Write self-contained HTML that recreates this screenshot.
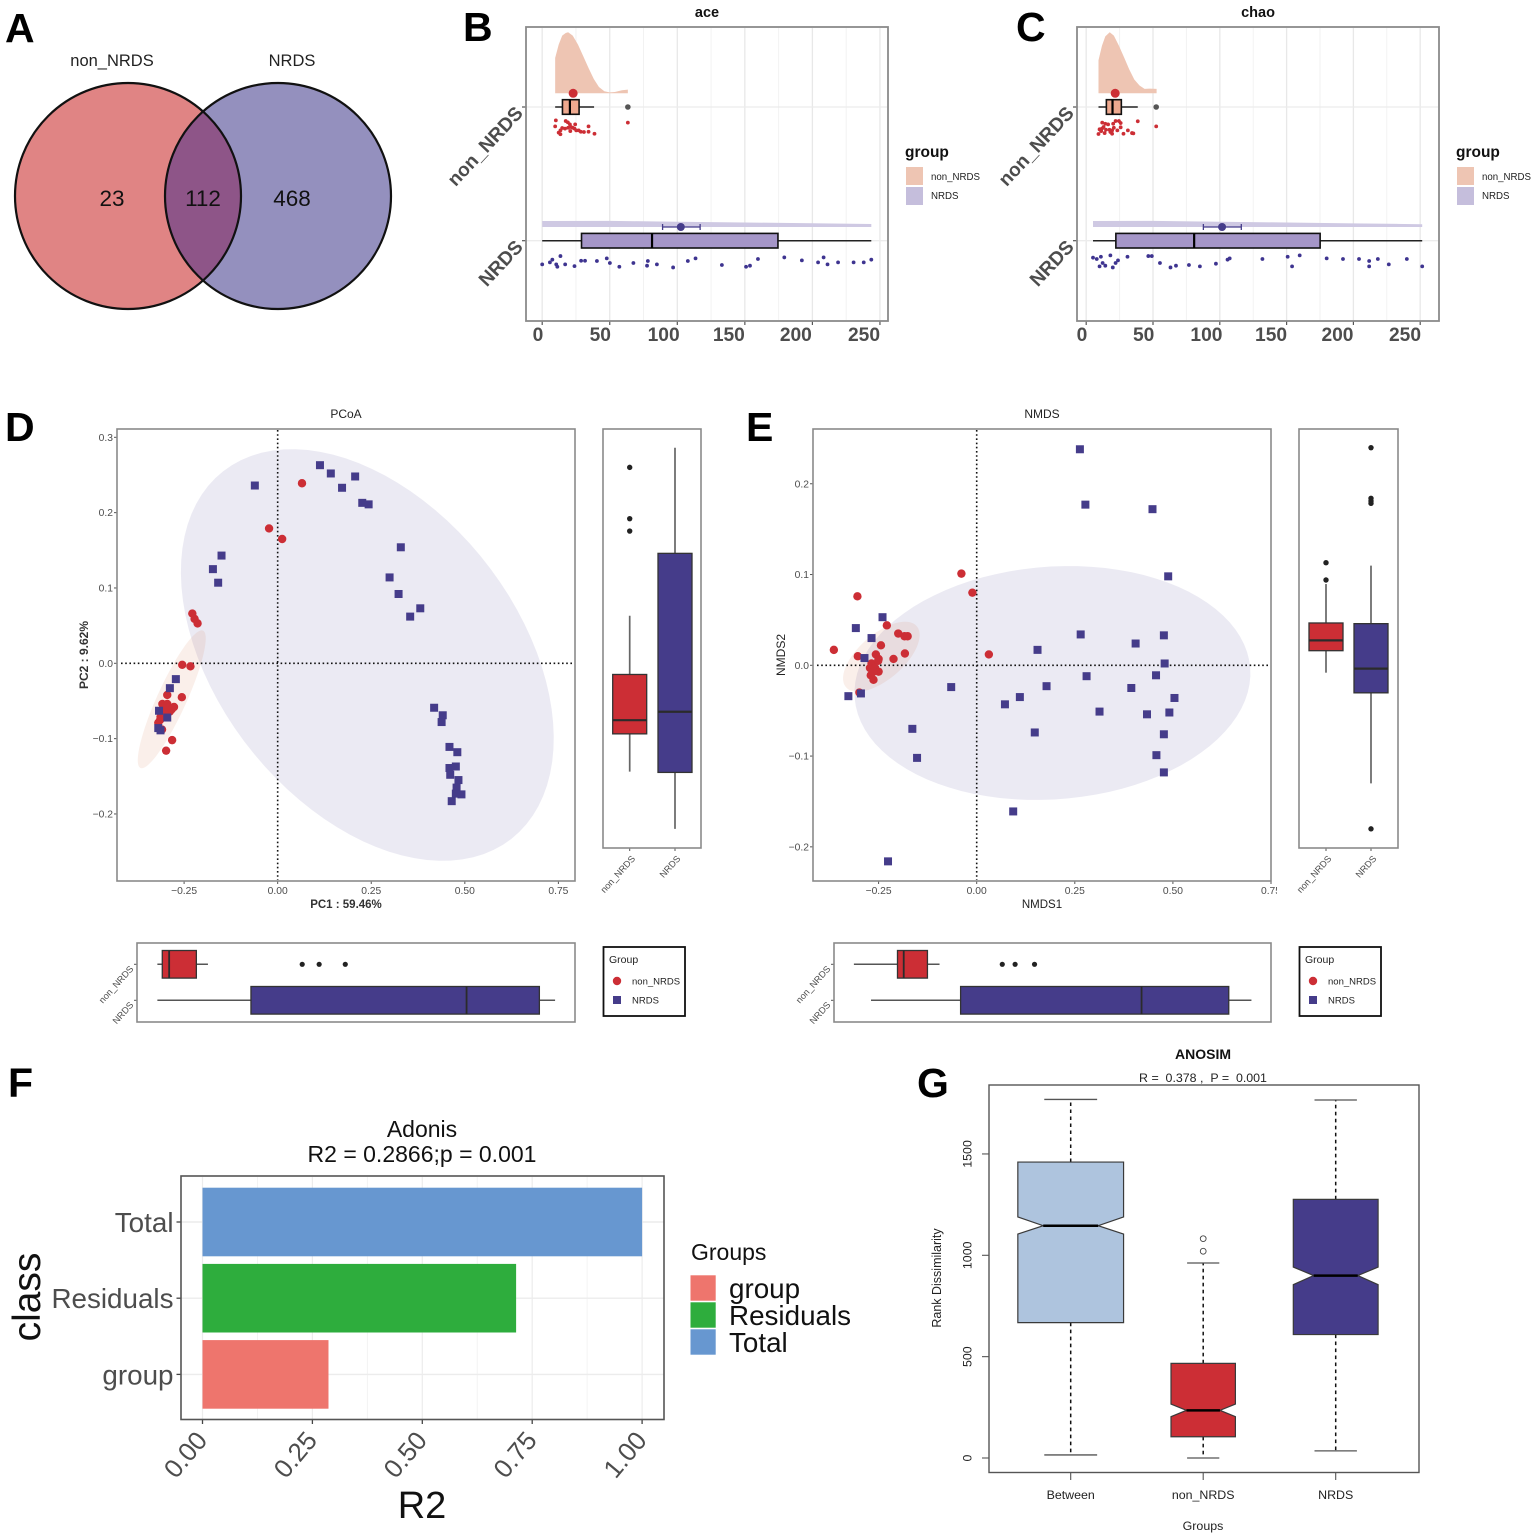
<!DOCTYPE html>
<html lang="en">
<head>
<meta charset="utf-8">
<title>Microbial diversity figure</title>
<style>
html,body{margin:0;padding:0;background:#fff}
svg{display:block;filter:blur(0.35px)}
text{font-family:"Liberation Sans",Arial,sans-serif}
</style>
</head>
<body>
<svg id="fig" xmlns="http://www.w3.org/2000/svg" width="1535" height="1537" viewBox="0 0 1535 1537">
<defs>
<clipPath id="e-clip"><rect x="800" y="880" width="477" height="20"/></clipPath>
</defs>
<rect x="0" y="0" width="1535" height="1537" fill="#fff"/>

<g font-weight="700" font-size="41" fill="#000">
<text x="5" y="42">A</text>
<text x="463" y="41">B</text>
<text x="1016" y="41">C</text>
<text x="5" y="441">D</text>
<text x="746" y="441">E</text>
<text x="8" y="1097">F</text>
<text x="917" y="1097">G</text>
</g>

<!-- Panel A -->
<g id="venn"></g>
<text x="112" y="66" font-size="16.5" text-anchor="middle" fill="#222">non_NRDS</text>
<text x="292" y="66" font-size="16.5" text-anchor="middle" fill="#222">NRDS</text>

<!-- Panel B -->
<text x="707" y="17" font-size="14.5" font-weight="700" text-anchor="middle" fill="#111">ace</text>
<g id="ace"></g>
<rect x="526" y="27" width="362" height="294" fill="none" stroke="#8a8a8a" stroke-width="1.8"/>
<g>
<text x="905" y="157" font-size="15.5" font-weight="700" fill="#111">group</text>
<rect x="906" y="167" width="17" height="18" fill="#EEC5B3"/>
<rect x="906" y="187" width="17" height="18" fill="#C5BEDC"/>
<text x="931" y="180" font-size="9.7" fill="#222">non_NRDS</text>
<text x="931" y="199" font-size="9.7" fill="#222">NRDS</text>
</g>

<!-- Panel C -->
<text x="1258" y="17" font-size="14.5" font-weight="700" text-anchor="middle" fill="#111">chao</text>
<g id="chao"></g>
<rect x="1077" y="27" width="362" height="294" fill="none" stroke="#8a8a8a" stroke-width="1.8"/>
<g>
<text x="1456" y="157" font-size="15.5" font-weight="700" fill="#111">group</text>
<rect x="1457" y="167" width="17" height="18" fill="#EEC5B3"/>
<rect x="1457" y="187" width="17" height="18" fill="#C5BEDC"/>
<text x="1482" y="180" font-size="9.7" fill="#222">non_NRDS</text>
<text x="1482" y="199" font-size="9.7" fill="#222">NRDS</text>
</g>

<!-- Panel D -->
<text x="346" y="418" font-size="12" text-anchor="middle" fill="#222">PCoA</text>
<g id="pcoa"></g>
<rect x="117" y="429" width="458" height="452" fill="none" stroke="#8a8a8a" stroke-width="1.6"/>
<text x="346" y="908" font-size="11.5" font-weight="700" fill="#333" text-anchor="middle">PC1 : 59.46%</text>
<text transform="translate(88,655) rotate(-90)" font-size="12" font-weight="700" fill="#333" text-anchor="middle">PC2 : 9.62%</text>
<g id="pcoa-side"></g>
<rect x="603" y="429" width="98" height="419" fill="none" stroke="#8a8a8a" stroke-width="1.6"/>
<g id="pcoa-bottom"></g>
<rect x="137" y="943" width="438" height="79" fill="none" stroke="#8a8a8a" stroke-width="1.6"/>
<g>
<rect x="603.5" y="947" width="81.5" height="69" fill="#fff" stroke="#111" stroke-width="1.8"/>
<text x="609" y="963" font-size="10.5" fill="#222">Group</text>
<circle cx="617" cy="981" r="4.2" fill="#CC2E35"/>
<rect x="613" y="996" width="8" height="8" fill="#453C8A"/>
<text x="632" y="984.5" font-size="9.5" fill="#222">non_NRDS</text>
<text x="632" y="1003.5" font-size="9.5" fill="#222">NRDS</text>
</g>

<!-- Panel E -->
<text x="1042" y="418" font-size="12" text-anchor="middle" fill="#222">NMDS</text>
<g id="nmds"></g>
<rect x="813" y="429" width="458" height="452" fill="none" stroke="#8a8a8a" stroke-width="1.6"/>
<text x="1042" y="908" font-size="11.5" fill="#222" text-anchor="middle">NMDS1</text>
<text transform="translate(785,655) rotate(-90)" font-size="12" fill="#222" text-anchor="middle">NMDS2</text>
<g id="nmds-side"></g>
<rect x="1299" y="429" width="99" height="419" fill="none" stroke="#8a8a8a" stroke-width="1.6"/>
<g id="nmds-bottom"></g>
<rect x="834" y="943" width="437" height="79" fill="none" stroke="#8a8a8a" stroke-width="1.6"/>
<g>
<rect x="1299.5" y="947" width="81.5" height="69" fill="#fff" stroke="#111" stroke-width="1.8"/>
<text x="1305" y="963" font-size="10.5" fill="#222">Group</text>
<circle cx="1313" cy="981" r="4.2" fill="#CC2E35"/>
<rect x="1309" y="996" width="8" height="8" fill="#453C8A"/>
<text x="1328" y="984.5" font-size="9.5" fill="#222">non_NRDS</text>
<text x="1328" y="1003.5" font-size="9.5" fill="#222">NRDS</text>
</g>

<!-- Panel F -->
<text x="422" y="1137" font-size="23" text-anchor="middle" fill="#111">Adonis</text>
<text x="422" y="1162" font-size="23" text-anchor="middle" fill="#111">R2 = 0.2866;p = 0.001</text>
<g id="adonis"></g>
<rect x="181" y="1176" width="483" height="243.5" fill="none" stroke="#555" stroke-width="1.6"/>
<text x="422" y="1518" font-size="38" text-anchor="middle" fill="#111">R2</text>
<text transform="translate(40,1297) rotate(-90)" font-size="39" text-anchor="middle" fill="#111">class</text>
<g>
<text x="691" y="1260" font-size="23" fill="#111">Groups</text>
<rect x="690.5" y="1275.3" width="25.2" height="25.4" fill="#EE756D"/>
<rect x="690.5" y="1302.3" width="25.2" height="25.4" fill="#2EAD3D"/>
<rect x="690.5" y="1329.3" width="25.2" height="25.4" fill="#6797D0"/>
<text x="729" y="1298" font-size="27.8" fill="#111">group</text>
<text x="729" y="1325" font-size="27.8" fill="#111">Residuals</text>
<text x="729" y="1352" font-size="27.8" fill="#111">Total</text>
</g>

<!-- Panel G -->
<text x="1203" y="1059" font-size="14" font-weight="700" text-anchor="middle" fill="#111">ANOSIM</text>
<text x="1203" y="1082" font-size="12.4" text-anchor="middle" fill="#222" xml:space="preserve">R =  0.378 ,  P =  0.001</text>
<g id="anosim"></g>
<rect x="989" y="1085" width="430" height="387.5" fill="none" stroke="#555" stroke-width="1.4"/>
<text x="1203" y="1530" font-size="12.4" text-anchor="middle" fill="#222">Groups</text>
<text transform="translate(941,1278) rotate(-90)" font-size="12.5" text-anchor="middle" fill="#222">Rank Dissimilarity</text>
</svg>

<script>
/* ---------- Panel A data ---------- */
const vennSets = ["non_NRDS", "NRDS"];
const vennCounts = [23, 112, 468];

/* ---------- Panel B data ---------- */
const rainTicks = [0, 50, 100, 150, 200, 250];
const rainMinorTicks = [25, 75, 125, 175, 225];
const rainTickLabels = ["0", "50", "100", "150", "200", "250"];
const rainCategories = ["non_NRDS", "NRDS"];

const aceNonBox = [9.6, 15, 20.5, 27.3, 38.4];
const aceNonOutliers = [63.4];
const aceNonMean = [22.9];
const aceNonDensityX = [9.6, 12.2, 14.8, 17.4, 19.2, 22.6, 26.5, 30.4, 34.3, 38.2, 42, 46, 49.9, 53.8, 59, 63.4];
const aceNonDensityY = [0.58, 0.798, 0.945, 0.989, 1, 0.945, 0.798, 0.607, 0.415, 0.235, 0.104, 0.033, 0.016, 0.022, 0.049, 0.06];
const aceNonValues = [10.1, 9.6, 14.8, 13.5, 12.2, 13.5, 17.4, 19, 20.5, 19.2, 22.6, 24.4, 20.8, 23.9, 25.2, 27, 28.6, 30.9, 34.3, 34.3, 38.7, 63.4, 16.9, 21.3];
const aceNonJitter = [0.10, 0.145, 0.157, 0.175, 0.192, 0.204, 0.105, 0.115, 0.13, 0.155, 0.155, 0.13, 0.18, 0.162, 0.175, 0.175, 0.185, 0.187, 0.145, 0.185, 0.2, 0.117, 0.162, 0.15];

const aceNrdsBox = [0, 29.1, 81.3, 174.5, 243.6];
const aceNrdsMean = [102.6, 89.1, 116.9];
const aceNrdsDensityX = [0, 50, 100, 150, 200, 243.6];
const aceNrdsDensityY = [0.098, 0.1, 0.087, 0.074, 0.062, 0.049];
const aceNrdsValues = [0, 5.7, 7.5, 10.4, 11.2, 13.5, 17, 23.9, 28.8, 31.7, 40.5, 47.8, 50.1, 57.1, 67.5, 77.6, 78.2, 84.9, 96.9, 107.8, 113.5, 133, 150.9, 153.8, 159.7, 179.2, 192.2, 204.2, 208.3, 211.2, 219, 230.5, 238, 243.6];
const aceNrdsJitter = [0.177, 0.162, 0.142, 0.177, 0.195, 0.115, 0.177, 0.19, 0.15, 0.15, 0.152, 0.132, 0.167, 0.195, 0.167, 0.187, 0.152, 0.177, 0.2, 0.152, 0.132, 0.182, 0.195, 0.187, 0.137, 0.125, 0.147, 0.162, 0.125, 0.177, 0.162, 0.162, 0.162, 0.142];

/* ---------- Panel C data ---------- */
const chaoNonBox = [9.2, 15.1, 19.7, 26.3, 38.6];
const chaoNonOutliers = [52.4];
const chaoNonMean = [21.7];
const chaoNonDensityX = [9.2, 11.8, 14.3, 17.6, 20.7, 24.5, 28.4, 32.2, 36, 39.9, 43.7, 47.5, 52.7];
const chaoNonDensityY = [0.541, 0.779, 0.934, 1, 0.945, 0.779, 0.586, 0.392, 0.227, 0.127, 0.072, 0.077, 0.072];
const chaoNonValues = [9.2, 10, 12, 11.8, 13, 14.3, 16.4, 11.2, 13.8, 17.4, 20.2, 22, 24.5, 25.8, 25.8, 20.7, 19.4, 18.1, 19.4, 27.9, 31.2, 34.3, 35.3, 38.6, 52.4, 23.3, 14.8];
const chaoNonJitter = [0.202, 0.167, 0.117, 0.162, 0.15, 0.125, 0.13, 0.18, 0.195, 0.17, 0.125, 0.105, 0.105, 0.12, 0.152, 0.155, 0.175, 0.187, 0.2, 0.2, 0.175, 0.195, 0.197, 0.107, 0.145, 0.175, 0.17];

const chaoNrdsBox = [5.1, 22.2, 80.8, 175.1, 251.5];
const chaoNrdsMean = [101.7, 87.7, 116.1];
const chaoNrdsDensityX = [5.1, 50, 100, 150, 200, 251.5];
const chaoNrdsDensityY = [0.098, 0.1, 0.087, 0.074, 0.06, 0.046];
const chaoNrdsValues = [5.1, 7.9, 11, 10, 12.3, 14.3, 18.1, 19.9, 22, 23.8, 30.9, 46.5, 49.1, 55.2, 63.1, 67.2, 76.9, 85.1, 97.1, 105.8, 107.4, 131.9, 150.8, 154.1, 159.8, 180, 192.2, 204.2, 211.8, 211.8, 218.3, 226.5, 240, 251.5];
const chaoNrdsJitter = [0.127, 0.137, 0.12, 0.192, 0.167, 0.187, 0.11, 0.2, 0.167, 0.147, 0.12, 0.115, 0.115, 0.167, 0.2, 0.187, 0.182, 0.192, 0.172, 0.142, 0.132, 0.137, 0.12, 0.192, 0.11, 0.132, 0.137, 0.137, 0.152, 0.192, 0.137, 0.177, 0.137, 0.192];

/* ---------- Panel D data ---------- */
const pcoaXTicks = [-0.25, 0, 0.25, 0.5, 0.75];
const pcoaXLabels = ["\u22120.25", "0.00", "0.25", "0.50", "0.75"];
const pcoaYTicks = [0.3, 0.2, 0.1, 0, -0.1, -0.2];
const pcoaYLabels = ["0.3", "0.2", "0.1", "0.0", "\u22120.1", "\u22120.2"];
const pcoaNonX = [0.065, -0.023, 0.012, -0.228, -0.222, -0.214, -0.255, -0.233, -0.256, -0.295, -0.308, -0.295, -0.277, -0.288, -0.301, -0.313, -0.319, -0.309, -0.282, -0.298, -0.292, -0.304, -0.314, -0.298, -0.283];
const pcoaNonY = [0.239, 0.179, 0.165, 0.066, 0.059, 0.053, -0.002, -0.004, -0.045, -0.042, -0.054, -0.054, -0.058, -0.064, -0.062, -0.071, -0.079, -0.088, -0.102, -0.116, -0.06, -0.066, -0.075, -0.057, -0.061];
const pcoaNrdsX = [-0.061, 0.113, 0.142, 0.172, 0.207, 0.226, 0.243, 0.329, 0.299, 0.323, 0.354, 0.381, -0.15, -0.173, -0.159, -0.272, -0.288, -0.317, -0.295, -0.319, -0.313, 0.418, 0.441, 0.438, 0.459, 0.48, 0.459, 0.476, 0.461, 0.483, 0.478, 0.476, 0.491, 0.465];
const pcoaNrdsY = [0.236, 0.263, 0.252, 0.233, 0.248, 0.213, 0.211, 0.154, 0.114, 0.092, 0.062, 0.073, 0.143, 0.125, 0.107, -0.021, -0.033, -0.063, -0.072, -0.086, -0.089, -0.059, -0.069, -0.078, -0.111, -0.118, -0.139, -0.137, -0.148, -0.155, -0.165, -0.173, -0.174, -0.183];
/* centre x, centre y, major semi-axis dx, dy, minor semi-axis dx, dy (data units) */
const pcoaNrdsEllipse = [0.2395, 0.011, 0.385, -0.244, -0.316, -0.123];
const pcoaNonEllipse = [-0.283, -0.0478, 0.0836, 0.0912, 0.0355, -0.00804];
const pcoaSideNonBox = [-0.116, -0.0718, -0.0558, -0.0023, 0.0664];
const pcoaSideNonOutliers = [0.24, 0.18, 0.1655];
const pcoaSideNrdsBox = [-0.183, -0.1169, -0.0459, 0.1394, 0.263];
const pcoaSideNrdsOutliers = [];
const pcoaBottomNonBox = [-0.319, -0.309, -0.295, -0.2396, -0.216];
const pcoaBottomNonOutliers = [-0.024, 0.0105, 0.0637];
const pcoaBottomNrdsBox = [-0.319, -0.1284, 0.3107, 0.459, 0.491];
const pcoaBottomNrdsOutliers = [];

/* ---------- Panel E data ---------- */
const nmdsXTicks = [-0.25, 0, 0.25, 0.5, 0.75];
const nmdsXLabels = ["\u22120.25", "0.00", "0.25", "0.50", "0.75"];
const nmdsYTicks = [0.2, 0.1, 0, -0.1, -0.2];
const nmdsYLabels = ["0.2", "0.1", "0.0", "\u22120.1", "\u22120.2"];
const nmdsNonX = [-0.039, -0.011, 0.031, -0.304, -0.229, -0.2, -0.184, -0.176, -0.244, -0.364, -0.303, -0.257, -0.25, -0.212, -0.183, -0.268, -0.272, -0.25, -0.27, -0.263, -0.299, -0.251, -0.259, -0.263];
const nmdsNonY = [0.101, 0.08, 0.012, 0.076, 0.044, 0.035, 0.032, 0.032, 0.022, 0.017, 0.01, 0.012, 0.007, 0.007, 0.013, 0.002, -0.003, -0.007, -0.011, -0.016, -0.03, 0.005, -0.003, -0.007];
const nmdsNrdsX = [0.263, 0.277, 0.448, 0.488, -0.24, -0.308, -0.268, -0.286, -0.327, -0.295, 0.265, 0.155, 0.405, 0.477, 0.479, 0.457, 0.28, 0.178, -0.065, 0.11, 0.072, 0.394, 0.504, 0.313, 0.434, 0.491, 0.148, -0.164, -0.152, 0.477, 0.458, 0.477, 0.093, -0.226];
const nmdsNrdsY = [0.238, 0.177, 0.172, 0.098, 0.053, 0.041, 0.03, 0.008, -0.034, -0.031, 0.034, 0.017, 0.024, 0.033, 0.002, -0.011, -0.012, -0.023, -0.024, -0.035, -0.043, -0.025, -0.036, -0.051, -0.054, -0.052, -0.074, -0.07, -0.102, -0.076, -0.099, -0.118, -0.161, -0.216];
const nmdsNrdsEllipse = [0.193, -0.0195, 0.504, 0.0165, 0.0225, -0.1278];
const nmdsNonEllipse = [-0.243, 0.0095, 0.09, 0.0337, 0.0377, -0.0187];
const nmdsSideNonBox = [-0.03, -0.0038, 0.0085, 0.0292, 0.0756];
const nmdsSideNonOutliers = [0.101, 0.0804];
const nmdsSideNrdsBox = [-0.1618, -0.054, -0.0252, 0.0284, 0.0975];
const nmdsSideNrdsOutliers = [0.238, 0.1777, 0.1745, 0.1717, -0.216];
const nmdsBottomNonBox = [-0.364, -0.2688, -0.2552, -0.2034, -0.177];
const nmdsBottomNonOutliers = [-0.04, -0.012, 0.0304];
const nmdsBottomNrdsBox = [-0.3266, -0.131, 0.2641, 0.4545, 0.504];
const nmdsBottomNrdsOutliers = [];
const groupNames = ["non_NRDS", "NRDS"];

/* ---------- Panel F data ---------- */
const adonisCategories = ["Total", "Residuals", "group"];
const adonisValues = [1, 0.7134, 0.2866];
const adonisColors = ["#6797D0", "#2EAD3D", "#EE756D"];
const adonisTicks = [0, 0.25, 0.5, 0.75, 1];
const adonisMinorTicks = [0.125, 0.375, 0.625, 0.875];
const adonisTickLabels = ["0.00", "0.25", "0.50", "0.75", "1.00"];

/* ---------- Panel G data ---------- */
const anosimCategories = ["Between", "non_NRDS", "NRDS"];
const anosimColors = ["#AEC4DE", "#CC2E35", "#453C8A"];
/* low, q1, notch low, median, notch high, q3, high */
const anosimBetween = [15, 668, 1105, 1146, 1189, 1460, 1769];
const anosimNon = [0, 105, 204, 235, 266, 467, 962];
const anosimNrds = [35, 609, 855, 900, 942, 1276, 1766];
const anosimOutliers = [[], [1020, 1082], []];
const anosimBoxHalfWidths = [0.399, 0.243, 0.32];
const anosimYTicks = [0, 500, 1000, 1500];
const anosimYLabels = ["0", "500", "1000", "1500"];

/* ---------- helpers ---------- */
const NS = "http://www.w3.org/2000/svg";
function mk(parent, tag, attrs, txt) {
  const n = document.createElementNS(NS, tag);
  for (const k in attrs) n.setAttribute(k, attrs[k]);
  if (txt !== undefined) n.textContent = txt;
  parent.appendChild(n);
  return n;
}
function linear(d0, r0, k) { return v => r0 + (v - d0) * k; }
function byId(id) { return document.getElementById(id); }
function areaPath(xs, tops, base) {
  let d = "M" + xs[0] + "," + base;
  xs.forEach((x, i) => { d += "L" + x + "," + tops[i]; });
  return d + "L" + xs[xs.length - 1] + "," + base + "Z";
}
function ellipsePath(e, sx, sy) {
  let d = "";
  for (let i = 0; i < 90; i++) {
    const t = i / 90 * 2 * Math.PI;
    const x = e[0] + e[2] * Math.cos(t) + e[4] * Math.sin(t);
    const y = e[1] + e[3] * Math.cos(t) + e[5] * Math.sin(t);
    d += (i ? "L" : "M") + sx(x).toFixed(2) + "," + sy(y).toFixed(2);
  }
  return d + "Z";
}

/* ---------- Panel A ---------- */
(function () {
  const g = byId("venn");
  const r = 113, cy = 196, c1 = 128, c2 = 278;
  const mid = (c1 + c2) / 2;
  const h = Math.sqrt(r * r - (mid - c1) * (mid - c1));
  const left = mk(g, "circle", { cx: c1, cy: cy, r: r, fill: "#E08484" });
  
  
  const right = mk(g, "circle", { cx: c2, cy: cy, r: r, fill: "#9490BE" });
  
  
  const lens = mk(g, "path", { d: "M" + mid + "," + (cy - h) + "A" + r + "," + r + " 0 0 1 " + mid + "," + (cy + h) + "A" + r + "," + r + " 0 0 1 " + mid + "," + (cy - h) + "Z", fill: "#8E5588" });
  
  
  [c1, c2].forEach(cx => {
    const o = mk(g, "circle", { cx: cx, cy: cy, r: r, fill: "none", stroke: "#111", "stroke-width": 2.2 });
    
    
  });
  const xs = [112, mid, 292];
  vennCounts.forEach((c, i) => {
    const t = mk(g, "text", { x: xs[i], y: 206, "font-size": 22.5, "text-anchor": "middle", fill: "#111" }, String(c));
    
    
  });
})();

/* ---------- Panels B, C ---------- */
function drawRain(id, prefix, sx, lx, labelEnd, nonBox, nonOut, nonMean, nonDX, nonDY, nonV, nonJ, nrBox, nrMean, nrDX, nrDY, nrV, nrJ) {
  const g = byId(id);
  const catY = c => 107 + (2 - c) * 133.7;
  const densityScale = 61;
  const fr = labelEnd + 361;
  rainMinorTicks.forEach(v => {
    const l = mk(g, "line", { x1: sx(v), x2: sx(v), y1: 28, y2: 320, stroke: "#f1f1f1", "stroke-width": 0.9 });
    
    
  });
  rainTicks.forEach((v, i) => {
    const l = mk(g, "line", { x1: sx(v), x2: sx(v), y1: 28, y2: 320, stroke: "#e8e8e8", "stroke-width": 1.3 });
    
    
    const tk = mk(g, "line", { x1: sx(v), x2: sx(v), y1: 321, y2: 325, stroke: "#555", "stroke-width": 1.2 });
    
    
    const t = mk(g, "text", { x: lx(v), y: 341, "font-size": 19.2, "font-weight": 700, fill: "#4d4d4d", "text-anchor": "middle" }, rainTickLabels[i]);
    
    
  });
  rainCategories.forEach((c, i) => {
    const y = catY(2 - i);
    const gl = mk(g, "line", { x1: labelEnd, x2: fr, y1: y, y2: y, stroke: "#ececec", "stroke-width": 1.3 });
    
    
    const tk = mk(g, "line", { x1: labelEnd - 4, x2: labelEnd, y1: y, y2: y, stroke: "#555", "stroke-width": 1.2 });
    
    
    const t = mk(g, "text", { transform: "translate(" + (labelEnd - 2) + "," + (y + 7) + ") rotate(-47)", "font-size": 19.2, "font-weight": 700, fill: "#4d4d4d", "text-anchor": "end" }, c);
    
    
  });
  function group(cat, box, dx, dy, vals, jit, densFill, boxFill, ptFill, nm) {
    const base = catY(cat) - 13.7;
    const dens = mk(g, "path", { d: areaPath(dx.map(sx), dy.map(v => base - v * densityScale), base), fill: densFill });
    
    
    const y = catY(cat);
    const wh = mk(g, "line", { x1: sx(box[0]), x2: sx(box[4]), y1: y, y2: y, stroke: "#222", "stroke-width": 1.5 });
    
    
    const r = mk(g, "rect", { x: sx(box[1]), y: y - 7.3, width: sx(box[3]) - sx(box[1]), height: 14.6, fill: boxFill, stroke: "#111", "stroke-width": 1.6 });
    
    
    const m = mk(g, "line", { x1: sx(box[2]), x2: sx(box[2]), y1: y - 7.3, y2: y + 7.3, stroke: "#000", "stroke-width": 2.2 });
    
    
    vals.forEach((v, i) => {
      const c = mk(g, "circle", { cx: sx(v), cy: catY(cat - jit[i]), r: 1.9, fill: ptFill });
      
      
    });
    return base;
  }
  const b1 = group(2, nonBox, nonDX, nonDY, nonV, nonJ, "#EEC5B3", "#EEA98F", "#CC2E35", prefix + "-non-nrds");
  nonOut.forEach(v => {
    const o = mk(g, "circle", { cx: sx(v), cy: catY(2), r: 2.8, fill: "#555" });
    
    
  });
  const mean1 = mk(g, "circle", { cx: sx(nonMean[0]), cy: b1, r: 4.5, fill: "#CC2E35" });
  
  
  const b2 = group(1, nrBox, nrDX, nrDY, nrV, nrJ, "#CFC9E3", "#A596C8", "#3E3490", prefix + "-nrds");
  const ci = mk(g, "path", { d: "M" + sx(nrMean[1]) + "," + (b2 - 3) + "V" + (b2 + 3) + "M" + sx(nrMean[1]) + "," + b2 + "H" + sx(nrMean[2]) + "M" + sx(nrMean[2]) + "," + (b2 - 3) + "V" + (b2 + 3), fill: "none", stroke: "#453C8A", "stroke-width": 1.3 });
  
  
  const mean2 = mk(g, "circle", { cx: sx(nrMean[0]), cy: b2, r: 4, fill: "#453C8A" });
  
  
}
/* tick labels in the source sit slightly left of the ticks, bowing in the middle of the axis */
function bowedLabels(start, k) {
  return v => start + v * k - 5 * Math.sin(Math.PI * v / 250);
}
drawRain("ace", "ace", linear(0, 542.2, 1.351), bowedLabels(538, 1.304), 526,
  aceNonBox, aceNonOutliers, aceNonMean, aceNonDensityX, aceNonDensityY, aceNonValues, aceNonJitter,
  aceNrdsBox, aceNrdsMean, aceNrdsDensityX, aceNrdsDensityY, aceNrdsValues, aceNrdsJitter);
drawRain("chao", "chao", linear(0, 1086.2, 1.336), bowedLabels(1082, 1.292), 1077,
  chaoNonBox, chaoNonOutliers, chaoNonMean, chaoNonDensityX, chaoNonDensityY, chaoNonValues, chaoNonJitter,
  chaoNrdsBox, chaoNrdsMean, chaoNrdsDensityX, chaoNrdsDensityY, chaoNrdsValues, chaoNrdsJitter);

/* ---------- Panels D, E ---------- */
function drawScatter(id, prefix, sx, sy, fl, fr, ft, fb, xT, xL, yT, yL, nrE, nonE, nonX, nonY, nrX, nrY, clip) {
  const g = byId(id);
  const e1 = mk(g, "path", { d: ellipsePath(nrE, sx, sy), fill: "#433A8C", "fill-opacity": 0.105 });
  
  
  const e2 = mk(g, "path", { d: ellipsePath(nonE, sx, sy), fill: "#D2693C", "fill-opacity": 0.11 });
  
  
  const h0 = mk(g, "line", { x1: fl + 4, x2: fr - 1, y1: sy(0), y2: sy(0), stroke: "#111", "stroke-width": 1.6, "stroke-dasharray": "1.6 2.6" });
  
  
  const v0 = mk(g, "line", { x1: sx(0), x2: sx(0), y1: ft + 1, y2: fb - 1, stroke: "#111", "stroke-width": 1.6, "stroke-dasharray": "1.6 2.6" });
  
  
  nonX.forEach((x, i) => {
    const c = mk(g, "circle", { cx: sx(x), cy: sy(nonY[i]), r: 4.2, fill: "#CC2E35" });
    
    
  });
  nrX.forEach((x, i) => {
    const s = mk(g, "rect", { x: sx(x) - 4, y: sy(nrY[i]) - 4, width: 8, height: 8, fill: "#453C8A" });
    
    
  });
  xT.forEach((v, i) => {
    const tk = mk(g, "line", { x1: sx(v), x2: sx(v), y1: fb, y2: fb + 3, stroke: "#555", "stroke-width": 1 });
    
    
    const t = mk(g, "text", { x: sx(v), y: fb + 13, "font-size": 10.3, "text-anchor": "middle", fill: "#4d4d4d" }, xL[i]);
    
    
    if (clip) t.setAttribute("clip-path", "url(#" + clip + ")");
  });
  yT.forEach((v, i) => {
    const tk = mk(g, "line", { x1: fl - 3, x2: fl, y1: sy(v), y2: sy(v), stroke: "#555", "stroke-width": 1 });
    
    
    const t = mk(g, "text", { x: fl - 4, y: sy(v) + 3.5, "font-size": 10.3, "text-anchor": "end", fill: "#4d4d4d" }, yL[i]);
    
    
  });
}
drawScatter("pcoa", "pcoa", linear(0, 277.67, 374.3), linear(0, 663.3, -753.3), 117, 575, 429, 881,
  pcoaXTicks, pcoaXLabels, pcoaYTicks, pcoaYLabels, pcoaNrdsEllipse, pcoaNonEllipse, pcoaNonX, pcoaNonY, pcoaNrdsX, pcoaNrdsY);
drawScatter("nmds", "nmds", linear(0, 976.7, 392.4), linear(0, 665.3, -907.7), 813, 1271, 429, 881,
  nmdsXTicks, nmdsXLabels, nmdsYTicks, nmdsYLabels, nmdsNrdsEllipse, nmdsNonEllipse, nmdsNonX, nmdsNonY, nmdsNrdsX, nmdsNrdsY, "e-clip");

const groupFills = ["#CC2E35", "#453C8A"];
function drawSide(id, prefix, sy, centers, frameBottom, boxes, outliers) {
  const g = byId(id);
  const hw = 17;
  boxes.forEach((b, i) => {
    const cx = centers(i);
    const w = mk(g, "line", { x1: cx, x2: cx, y1: sy(b[0]), y2: sy(b[4]), stroke: "#666", "stroke-width": 1.7 });
    
    
    const r = mk(g, "rect", { x: cx - hw, y: sy(b[3]), width: hw * 2, height: sy(b[1]) - sy(b[3]), fill: groupFills[i], stroke: "#333", "stroke-width": 1.3 });
    
    
    const m = mk(g, "line", { x1: cx - hw, x2: cx + hw, y1: sy(b[2]), y2: sy(b[2]), stroke: "#2b2b2b", "stroke-width": 2.2 });
    
    
    outliers[i].forEach(v => {
      const o = mk(g, "circle", { cx: cx, cy: sy(v), r: 2.7, fill: "#222" });
      
      
    });
    const tk = mk(g, "line", { x1: cx, x2: cx, y1: frameBottom, y2: frameBottom + 3, stroke: "#555", "stroke-width": 1 });
    
    
    const t = mk(g, "text", { transform: "translate(" + (cx + 6) + "," + (frameBottom + 11) + ") rotate(-48)", "font-size": 9.2, "text-anchor": "end", fill: "#4d4d4d" }, groupNames[i]);
    
    
  });
}
drawSide("pcoa-side", "pcoa-side", linear(0, 672.5, -854.7), i => 629.7 + 45.3 * i, 848,
  [pcoaSideNonBox, pcoaSideNrdsBox], [pcoaSideNonOutliers, pcoaSideNrdsOutliers]);
drawSide("nmds-side", "nmds-side", linear(0, 647.5, -839.6), i => 1326 + 45 * i, 848,
  [nmdsSideNonBox, nmdsSideNrdsBox], [nmdsSideNonOutliers, nmdsSideNrdsOutliers]);

function drawBottom(id, prefix, sx, frameLeft, boxes, outliers) {
  const g = byId(id);
  const hh = 13.8;
  boxes.forEach((b, i) => {
    const cy = 964.3 + 36 * i;
    const w = mk(g, "line", { x1: sx(b[0]), x2: sx(b[4]), y1: cy, y2: cy, stroke: "#555", "stroke-width": 1.5 });
    
    
    const r = mk(g, "rect", { x: sx(b[1]), y: cy - hh, width: sx(b[3]) - sx(b[1]), height: hh * 2, fill: groupFills[i], stroke: "#333", "stroke-width": 1.3 });
    
    
    const m = mk(g, "line", { x1: sx(b[2]), x2: sx(b[2]), y1: cy - hh, y2: cy + hh, stroke: "#2b2b2b", "stroke-width": 1.8 });
    
    
    outliers[i].forEach(v => {
      const o = mk(g, "circle", { cx: sx(v), cy: cy, r: 2.6, fill: "#222" });
      
      
    });
    const tk = mk(g, "line", { x1: frameLeft - 3, x2: frameLeft, y1: cy, y2: cy, stroke: "#555", "stroke-width": 1 });
    
    
    const t = mk(g, "text", { transform: "translate(" + (frameLeft - 3) + "," + (cy + 5) + ") rotate(-48)", "font-size": 9.2, "text-anchor": "end", fill: "#4d4d4d" }, groupNames[i]);
    
    
  });
}
drawBottom("pcoa-bottom", "pcoa-bottom", linear(0, 314, 491), 137,
  [pcoaBottomNonBox, pcoaBottomNrdsBox], [pcoaBottomNonOutliers, pcoaBottomNrdsOutliers]);
drawBottom("nmds-bottom", "nmds-bottom", linear(0, 1020.6, 458), 834,
  [nmdsBottomNonBox, nmdsBottomNrdsBox], [nmdsBottomNonOutliers, nmdsBottomNrdsOutliers]);

/* ---------- Panel F ---------- */
(function () {
  const g = byId("adonis");
  const sx = linear(0, 202.5, 439.6);
  const cy = i => 1222 + 76.2 * i;
  adonisMinorTicks.forEach(v => {
    const l = mk(g, "line", { x1: sx(v), x2: sx(v), y1: 1177, y2: 1419, stroke: "#f2f2f2", "stroke-width": 0.9 });
    
    
  });
  adonisTicks.forEach((v, i) => {
    const l = mk(g, "line", { x1: sx(v), x2: sx(v), y1: 1177, y2: 1419, stroke: "#ececec", "stroke-width": 1.2 });
    
    
    const tk = mk(g, "line", { x1: sx(v), x2: sx(v), y1: 1419.5, y2: 1424, stroke: "#444", "stroke-width": 1.3 });
    
    
    const t = mk(g, "text", { transform: "translate(" + (sx(v) + 6) + ",1441) rotate(-50)", "font-size": 26, "text-anchor": "end", fill: "#4d4d4d" }, adonisTickLabels[i]);
    
    
  });
  adonisCategories.forEach((c, i) => {
    const y = cy(i);
    const l = mk(g, "line", { x1: 181, x2: 664, y1: y, y2: y, stroke: "#ececec", "stroke-width": 1.4 });
    
    
    const b = mk(g, "rect", { x: sx(0), y: y - 34.3, width: sx(adonisValues[i]) - sx(0), height: 68.6, fill: adonisColors[i] });
    
    
    const tk = mk(g, "line", { x1: 176.5, x2: 181, y1: y, y2: y, stroke: "#444", "stroke-width": 1.3 });
    
    
    const t = mk(g, "text", { x: 173.5, y: y + 10, "font-size": 27.8, "text-anchor": "end", fill: "#4d4d4d" }, c);
    
    
  });
})();

/* ---------- Panel G ---------- */
(function () {
  const g = byId("anosim");
  const sy = linear(0, 1458, -0.2027);
  const sx = linear(0, 1070.7, 132.5);
  const boxes = [anosimBetween, anosimNon, anosimNrds];
  boxes.forEach((b, i) => {
    const cx = sx(i), hw = anosimBoxHalfWidths[i] * 132.5, nw = hw * 0.52, cap = hw * 0.5;
    const w = mk(g, "path", { d: "M" + cx + "," + sy(b[5]) + "V" + sy(b[6]) + "M" + cx + "," + sy(b[1]) + "V" + sy(b[0]), fill: "none", stroke: "#111", "stroke-width": 1.5, "stroke-dasharray": "3.6 3.4" });
    
    
    const c = mk(g, "path", { d: "M" + (cx - cap) + "," + sy(b[6]) + "H" + (cx + cap) + "M" + (cx - cap) + "," + sy(b[0]) + "H" + (cx + cap), fill: "none", stroke: "#555", "stroke-width": 1.3 });
    
    
    const d = "M" + (cx - hw) + "," + sy(b[1]) + "V" + sy(b[2]) + "L" + (cx - nw) + "," + sy(b[3]) + "L" + (cx - hw) + "," + sy(b[4]) + "V" + sy(b[5]) +
      "H" + (cx + hw) + "V" + sy(b[4]) + "L" + (cx + nw) + "," + sy(b[3]) + "L" + (cx + hw) + "," + sy(b[2]) + "V" + sy(b[1]) + "Z";
    const p = mk(g, "path", { d: d, fill: anosimColors[i], stroke: "#3a3a3a", "stroke-width": 1.2 });
    
    
    const m = mk(g, "line", { x1: cx - nw, x2: cx + nw, y1: sy(b[3]), y2: sy(b[3]), stroke: "#000", "stroke-width": 2.5 });
    
    
    anosimOutliers[i].forEach(v => {
      const o = mk(g, "circle", { cx: cx, cy: sy(v), r: 2.9, fill: "#fff", stroke: "#444", "stroke-width": 0.9 });
      
      
    });
    const tk = mk(g, "line", { x1: cx, x2: cx, y1: 1472.5, y2: 1480, stroke: "#555", "stroke-width": 1.1 });
    
    
    const t = mk(g, "text", { x: cx, y: 1499, "font-size": 12.4, "text-anchor": "middle", fill: "#222" }, anosimCategories[i]);
    
    
  });
  anosimYTicks.forEach((v, i) => {
    const tk = mk(g, "line", { x1: 982, x2: 989, y1: sy(v), y2: sy(v), stroke: "#555", "stroke-width": 1.1 });
    
    
    const t = mk(g, "text", { transform: "translate(971.5," + sy(v) + ") rotate(-90)", "font-size": 12.4, "text-anchor": "middle", fill: "#222" }, anosimYLabels[i]);
    
    
  });
})();
</script>
</body>
</html>
